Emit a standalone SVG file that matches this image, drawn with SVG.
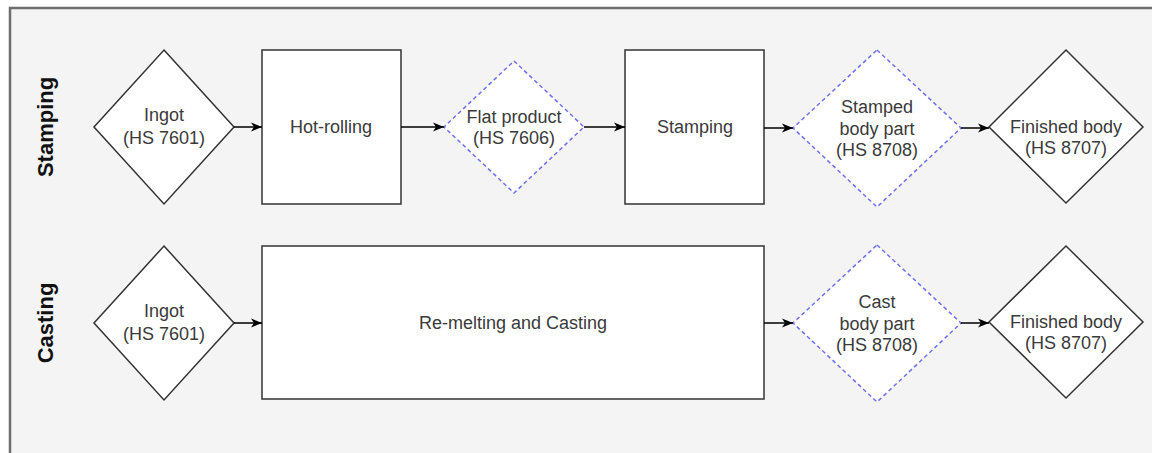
<svg xmlns="http://www.w3.org/2000/svg" width="1152" height="453" viewBox="0 0 1152 453">
  <defs>
    <marker id="arrow" viewBox="0 0 11 10" refX="11" refY="5" markerWidth="11" markerHeight="10" markerUnits="userSpaceOnUse" orient="auto">
      <path d="M0,0.5 L11,5 L0,9.5 L3,5 Z" fill="#000"/>
    </marker>
    <style>
      .pool { fill: #f4f4f4; stroke: #6e6e6e; stroke-width: 2.5; }
      .box { fill: #fff; stroke: #333; stroke-width: 1.5; }
      .dash { fill: #fff; stroke: #6f6ff5; stroke-width: 1.5; stroke-dasharray: 4 3; }
      .lbl { font-family: "Liberation Sans", Arial, sans-serif; font-size: 18px; fill: #3a3a3a; text-anchor: middle; }
      .lane { font-family: "Liberation Sans", Arial, sans-serif; font-size: 22px; font-weight: bold; fill: #111; text-anchor: middle; }
      .edge { stroke: #000; stroke-width: 1.5; fill: none; marker-end: url(#arrow); }
    </style>
  </defs>

  <rect width="1152" height="453" fill="#fff"/>
  <!-- swimlane pool -->
  <rect class="pool" x="10" y="8" width="1160" height="460"/>
  <text class="lane" transform="translate(53,127) rotate(-90)">Stamping</text>
  <text class="lane" transform="translate(53,323) rotate(-90)">Casting</text>

  <!-- stamping route -->
  <g id="s-ingot">
    <polygon class="box" points="164,50 234,127 164,204 94,127"/>
    <text class="lbl"><tspan x="164" y="121">Ingot</tspan><tspan x="164" y="144">(HS 7601)</tspan></text>
  </g>
  <g id="s-hotrolling">
    <rect class="box" x="262" y="50" width="139" height="154"/>
    <text class="lbl" x="331" y="133">Hot-rolling</text>
  </g>
  <g id="s-flat">
    <polygon class="dash" points="514,61 584,127 514,193 444,127"/>
    <text class="lbl"><tspan x="514" y="123">Flat product</tspan><tspan x="514" y="144">(HS 7606)</tspan></text>
  </g>
  <g id="s-stamping">
    <rect class="box" x="625" y="50" width="139" height="154"/>
    <text class="lbl" x="695" y="133">Stamping</text>
  </g>
  <g id="s-stamped">
    <polygon class="dash" points="877,50 961,128 877,207 793,128"/>
    <text class="lbl"><tspan x="877" y="113">Stamped</tspan><tspan x="877" y="134.5">body part</tspan><tspan x="877" y="156">(HS 8708)</tspan></text>
  </g>
  <g id="s-finished">
    <polygon class="box" points="1066,50 1143,127 1066,203 989,127"/>
    <text class="lbl"><tspan x="1066" y="133">Finished body</tspan><tspan x="1066" y="154">(HS 8707)</tspan></text>
  </g>

  <!-- casting route -->
  <g id="c-ingot">
    <polygon class="box" points="164,246 234,323 164,400 94,323"/>
    <text class="lbl"><tspan x="164" y="317">Ingot</tspan><tspan x="164" y="340">(HS 7601)</tspan></text>
  </g>
  <g id="c-casting">
    <rect class="box" x="262" y="246" width="502" height="153"/>
    <text class="lbl" x="513" y="329">Re-melting and Casting</text>
  </g>
  <g id="c-cast">
    <polygon class="dash" points="877,245 961,323 877,402 793,323"/>
    <text class="lbl"><tspan x="877" y="308">Cast</tspan><tspan x="877" y="329.5">body part</tspan><tspan x="877" y="351">(HS 8708)</tspan></text>
  </g>
  <g id="c-finished">
    <polygon class="box" points="1066,246 1143,322 1066,398 989,322"/>
    <text class="lbl"><tspan x="1066" y="328">Finished body</tspan><tspan x="1066" y="349">(HS 8707)</tspan></text>
  </g>

  <g id="connectors">
    <line class="edge" x1="234" y1="127" x2="262" y2="127"/>
    <line class="edge" x1="401" y1="127" x2="444" y2="127"/>
    <line class="edge" x1="584" y1="127" x2="625" y2="127"/>
    <line class="edge" x1="764" y1="128" x2="793" y2="128"/>
    <line class="edge" x1="961" y1="128" x2="989" y2="128"/>
    <line class="edge" x1="234" y1="323" x2="262" y2="323"/>
    <line class="edge" x1="764" y1="323" x2="793" y2="323"/>
    <line class="edge" x1="961" y1="323" x2="989" y2="323"/>
  </g>
</svg>
